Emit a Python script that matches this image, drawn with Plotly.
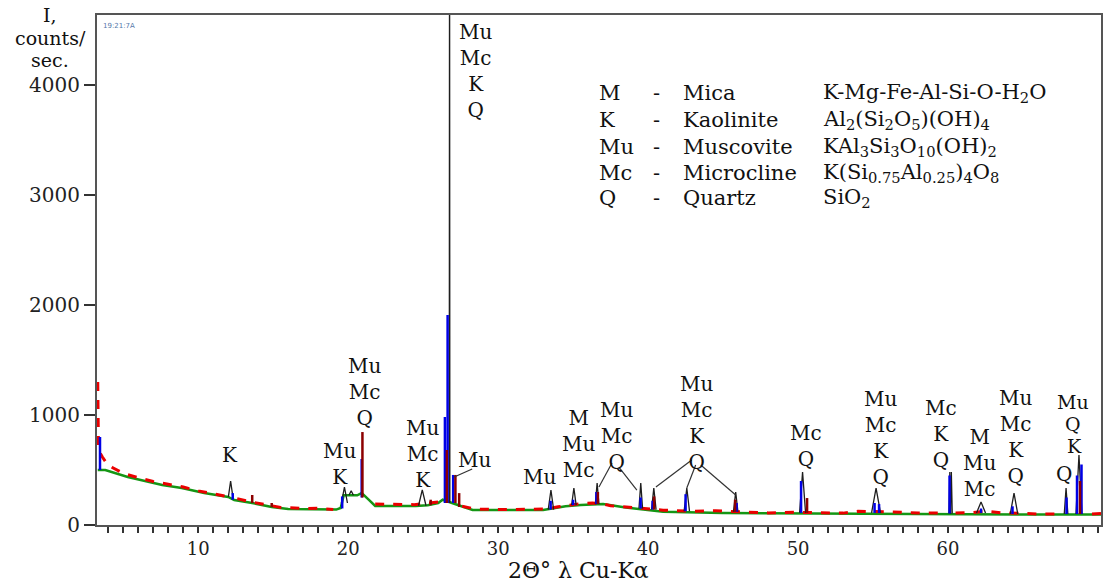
import plotly.graph_objects as go

# ---------------- data ----------------
# background (green fitted baseline), 2-theta degrees vs counts/sec
bg_x = [3.3, 3.8, 5.3, 7.6, 8.9, 10.4, 12.0, 12.4, 13.6, 14.9, 16.0, 18.6, 19.2, 19.5,
        19.7, 20.6, 20.9, 21.4, 21.8, 24.5, 25.3, 26.0, 26.3, 27.7, 28.3, 33.0, 34.5,
        35.5, 37.0, 38.5, 40.0, 41.0, 45.0, 50.0, 55.0, 60.0, 65.0, 70.2]
bg_y = [500, 500, 436, 364, 336, 291, 255, 227, 200, 164, 145, 136, 140, 155,
        270, 270, 290, 227, 173, 173, 180, 200, 230, 164, 136, 136, 170,
        182, 190, 160, 140, 120, 109, 105, 100, 100, 95, 95]

# measured pattern (red), None = gap
meas_x = [3.3, 3.35, 3.6, 3.9, 4.3, 5.0, 6.0, 7.0, 8.0, 9.0, 10.0, 11.0, 11.8, None,
          12.6, 13.5, 14.5, 15.5, 17.0, 18.0, 19.0, None,
          21.8, 23.0, 24.4, 25.4, 26.1, None,
          27.6, 28.5, 30.0, 32.0, 33.2, 34.0, 35.5, 36.3, 37.0, 37.5, 38.5, 39.2, 41.0,
          43.0, 44.5, 46.0, 48.0, 49.8, 51.0, 53.0, 54.0, 55.0, 56.0, 57.0, 58.0, 59.8, None,
          60.5, 61.5, 62.5, 63.5, 65.0, 66.0, 67.5, None, 69.6, 70.2]
meas_y = [1300, 680, 620, 560, 520, 470, 430, 395, 370, 345, 310, 280, 262, None,
          240, 210, 185, 160, 150, 152, 140, None,
          190, 185, 185, 200, 210, None,
          170, 145, 140, 140, 145, 165, 195, 200, 190, 175, 165, 155, 135,
          125, 130, 120, 110, 115, 110, 108, 125, 125, 120, 115, 110, 108, None,
          110, 112, 125, 112, 105, 100, 100, None, 100, 105]

# identified peaks: position, top, base, half width (black profiles)
peak_pos = [12.16, 19.75, 20.2, 24.94, 26.76, 33.52, 35.05, 36.6, 39.51, 40.38,
            42.58, 45.84, 50.3, 55.2, 60.12, 60.22, 62.2, 64.4, 67.87, 68.73]
peak_top = [400, 345, 310, 320, 6000, 318, 336, 382, 382, 336,
            336, 300, 482, 336, 482, 482, 209, 290, 336, 636]
peak_base = [255, 200, 270, 175, 200, 140, 180, 190, 150, 140,
             125, 120, 110, 110, 105, 105, 110, 100, 100, 100]
peak_hw = [0.15, 0.2, 0.15, 0.25, 0.02, 0.18, 0.15, 0.12, 0.12, 0.15,
           0.18, 0.15, 0.2, 0.3, 0.06, 0.06, 0.3, 0.25, 0.12, 0.2]

# blue component sticks: position, top, base
blue_pos = [3.45, 12.3, 19.6, 20.9, 26.45, 26.63, 27.0, 33.5, 35.0, 36.55, 39.5, 40.3,
            42.5, 45.9, 50.2, 55.1, 55.4, 60.1, 62.2, 64.3, 67.9, 68.6, 68.9]
blue_top = [800, 290, 260, 600, 982, 1909, 455, 220, 230, 300, 250, 220,
            280, 200, 400, 200, 190, 450, 150, 170, 250, 450, 550]
blue_base = [500, 230, 150, 250, 200, 200, 200, 140, 180, 190, 150, 140,
             125, 120, 110, 110, 110, 105, 110, 100, 100, 100, 100]

# dark red sticks: position, top, base
dred_pos = [13.6, 14.9, 20.95, 25.5, 26.58, 27.15, 27.4, 36.65, 40.4, 45.8, 50.6, 68.8]
dred_top = [273, 200, 845, 230, 682, 455, 290, 300, 260, 230, 245, 400]
dred_base = [200, 164, 250, 180, 200, 200, 164, 190, 140, 120, 110, 100]

# peak annotations (text, x in degrees, y in counts)
lab_text = ["K", "Mu<br>K", "Mu<br>Mc<br>Q", "Mu<br>Mc<br>K", "Mu", "Mu<br>Mc<br>K<br>Q",
            "Mu", "M<br>Mu<br>Mc", "Mu<br>Mc<br>Q", "Mu<br>Mc<br>K<br>Q", "Mc<br>Q",
            "Mu<br>Mc<br>K<br>Q", "Mc<br>K<br>Q", "M<br>Mu<br>Mc", "Mu<br>Mc<br>K<br>Q",
            "Mu", "Q", "K", "Q"]
lab_x = [12.1, 19.41, 21.08, 24.94, 28.40, 28.47, 32.73, 35.39, 37.92, 43.24, 50.56,
         55.49, 59.55, 62.08, 64.47, 68.33, 68.36, 68.4, 67.73]
lab_y = [636, 555, 1209, 645, 591, 4127, 436, 736, 809, 927, 718,
         791, 827, 564, 800, 1118, 918, 718, 464]
lab_size = [20, 20, 20, 20, 20, 20, 20, 20, 20, 20, 20,
            20, 20, 20, 20, 19, 19, 19, 20]

# leader lines (x0, y0, x1, y1)
lead_x0 = [27.07, 37.59, 38.05, 42.91, 43.17, 43.51]
lead_y0 = [436, 564, 527, 591, 545, 545]
lead_x1 = [28.27, 36.72, 39.25, 40.52, 42.58, 45.84]
lead_y1 = [509, 345, 318, 345, 336, 273]

# phase key
key_sym = ["M", "K", "Mu", "Mc", "Q"]
key_name = ["Mica", "Kaolinite", "Muscovite", "Microcline", "Quartz"]
key_formula = ["K-Mg-Fe-Al-Si-O-H<sub>2</sub>O",
               "Al<sub>2</sub>(Si<sub>2</sub>O<sub>5</sub>)(OH)<sub>4</sub>",
               "KAl<sub>3</sub>Si<sub>3</sub>O<sub>10</sub>(OH)<sub>2</sub>",
               "K(Si<sub>0.75</sub>Al<sub>0.25</sub>)<sub>4</sub>O<sub>8</sub>",
               "SiO<sub>2</sub>"]

y_title_lines = ["I,", "counts/", "sec."]

x_ticks = [10, 20, 30, 40, 50, 60, 70]
y_ticks = [0, 1000, 2000, 3000, 4000]

# ---------------- figure ----------------
SERIF = "DejaVu Serif"


def sticks(pos, top, base):
    xs, ys = [], []
    for p, t, b in zip(pos, top, base):
        xs += [p, p, None]
        ys += [b, t, None]
    return xs, ys


def profiles(pos, top, base, hw):
    xs, ys = [], []
    for p, t, b, w in zip(pos, top, base, hw):
        xs += [p - w, p, p + w, None]
        ys += [b, t, b, None]
    return xs, ys


fig = go.Figure()
fig.add_trace(go.Scatter(x=bg_x, y=bg_y, mode="lines",
                         line=dict(color="rgb(20,150,20)", width=2.5), hoverinfo="skip"))
fig.add_trace(go.Scatter(x=meas_x, y=meas_y, mode="lines", connectgaps=False,
                         line=dict(color="rgb(235,0,0)", width=3, dash="dash"), hoverinfo="skip"))
px_, py_ = profiles(peak_pos, peak_top, peak_base, peak_hw)
fig.add_trace(go.Scatter(x=px_, y=py_, mode="lines",
                         line=dict(color="rgb(30,30,30)", width=1.3), hoverinfo="skip"))
bx, by = sticks(blue_pos, blue_top, blue_base)
fig.add_trace(go.Scatter(x=bx, y=by, mode="lines",
                         line=dict(color="rgb(0,0,230)", width=2.5), hoverinfo="skip"))
dx, dy = sticks(dred_pos, dred_top, dred_base)
fig.add_trace(go.Scatter(x=dx, y=dy, mode="lines",
                         line=dict(color="rgb(140,0,0)", width=2.5), hoverinfo="skip"))

for t, x, y, s in zip(lab_text, lab_x, lab_y, lab_size):
    fig.add_annotation(x=x, y=y, xref="x", yref="y", text=t, showarrow=False,
                       font=dict(family=SERIF, size=s, color="#111"),
                       xanchor="center", yanchor="middle")

for x0, y0, x1, y1 in zip(lead_x0, lead_y0, lead_x1, lead_y1):
    fig.add_shape(type="line", x0=x0, y0=y0, x1=x1, y1=y1, xref="x", yref="y",
                  line=dict(color="#333", width=1.2))

row_y = [0.847, 0.794, 0.741, 0.690, 0.641]
for s, n, f, ry in zip(key_sym, key_name, key_formula, row_y):
    for txt, cx in ((s, 0.498), ("-", 0.5517), (n, 0.5815), (f, 0.7207)):
        fig.add_annotation(x=cx, y=ry, xref="paper", yref="paper", text=txt,
                           showarrow=False, xanchor="left", yanchor="middle",
                           font=dict(family=SERIF, size=21, color="#111"))

# axis titles
for txt, ty in zip(y_title_lines, [1.0, 0.955, 0.912]):
    fig.add_annotation(x=-0.0467, y=ty, xref="paper", yref="paper",
                       text=txt, showarrow=False,
                       xanchor="center", yanchor="middle",
                       font=dict(family=SERIF, size=19, color="#111"))
fig.add_annotation(x=0.48, y=-0.089, xref="paper", yref="paper",
                   text="2Θ° λ Cu-Kα", showarrow=False,
                   xanchor="center", yanchor="middle",
                   font=dict(family=SERIF, size=22, color="#111"))
fig.add_annotation(x=0.004, y=0.99, xref="paper", yref="paper",
                   text="19:21:7A", showarrow=False, xanchor="left", yanchor="top",
                   font=dict(family="DejaVu Sans", size=7, color="#5577aa"))

fig.update_layout(
    width=1106, height=581,
    margin=dict(l=97, r=3, t=15, b=56),
    paper_bgcolor="white", plot_bgcolor="white",
    showlegend=False,
    font=dict(family=SERIF),
    xaxis=dict(range=[3.25, 70.2], tickvals=x_ticks, ticks="outside", ticklen=6,
               tickwidth=1.5, tickcolor="#333",
               showline=True, linecolor="#555", linewidth=2, mirror=True,
               showgrid=False, zeroline=False,
               minor=dict(dtick=1, tick0=0, ticks="outside", ticklen=6,
                          tickcolor="#333", tickwidth=1.5, showgrid=False),
               tickfont=dict(family=SERIF, size=18, color="#222")),
    yaxis=dict(range=[0, 4636], tickvals=y_ticks, ticks="outside", ticklen=11,
               tickwidth=1.5, tickcolor="#333",
               showline=True, linecolor="#555", linewidth=2, mirror=True,
               showgrid=False, zeroline=False,
               tickfont=dict(family=SERIF, size=20, color="#222")),
)

fig.write_html("out.html")
